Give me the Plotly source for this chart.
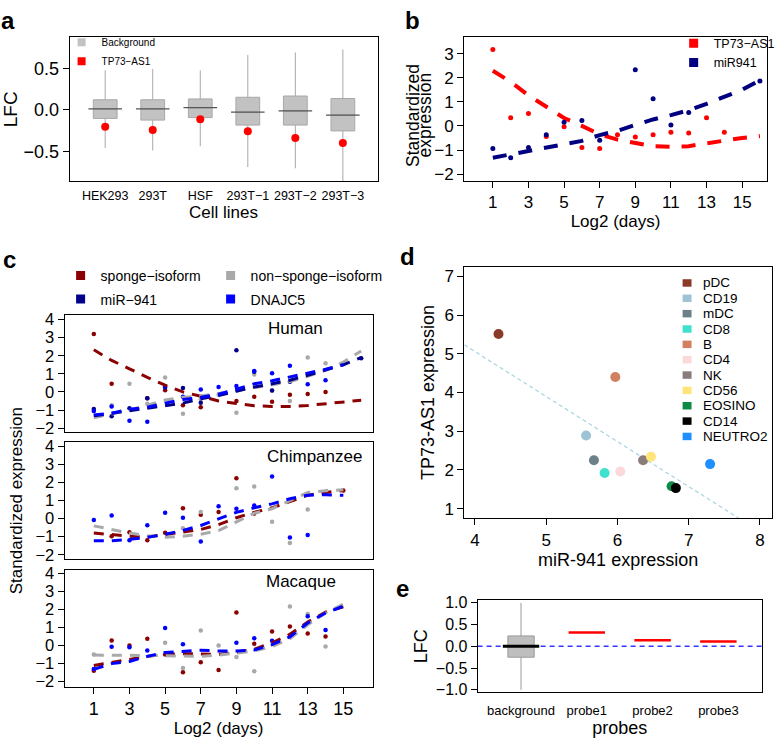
import numpy as np
import plotly.graph_objects as go

W, H = 780, 744
FONT = "Liberation Sans, Arial, Helvetica, sans-serif"


def X(px):
    return px / W


def Y(py):
    return 1 - py / H


# ---------------- Panel a data ----------------
cell_lines = ["HEK293", "293T", "HSF", "293T\u22121", "293T\u22122", "293T\u22123"]
bg_lower = [-0.46, -0.49, -0.44, -0.69, -0.705, -0.95]
bg_q1 = [-0.105, -0.125, -0.095, -0.185, -0.185, -0.255]
bg_median = [0.01, 0.01, 0.025, -0.03, -0.015, -0.065]
bg_q3 = [0.12, 0.12, 0.13, 0.15, 0.165, 0.135]
bg_upper = [0.475, 0.49, 0.475, 0.66, 0.69, 0.725]
tp73_lfc = [-0.205, -0.245, -0.115, -0.26, -0.34, -0.40]

# ---------------- Panel b data ----------------
days = list(range(1, 17))
b_tp73_pts = [3.17, 0.34, 0.52, -0.44, -0.03, -0.89, -0.94, -0.37, -0.46, -0.37,
              -0.26, -0.29, 0.34, -0.26, None, None]
b_mir_pts = [-0.94, -1.32, -0.89, -0.37, 0.15, 0.23, -0.59, None, 2.33, 1.13,
             0.04, 0.56, None, None, None, 1.86]
b_tp73_fit = [2.29, 1.83, 1.27, 0.81, 0.33, 0.0, -0.35, -0.57, -0.71, -0.84,
              -0.86, -0.84, -0.72, -0.60, -0.50, -0.42]
b_mir_fit = [-1.32, -1.18, -1.05, -0.94, -0.78, -0.62, -0.38, -0.20, 0.04, 0.27,
             0.45, 0.65, 0.92, 1.20, 1.50, 1.90]

# ---------------- Panel c data ----------------
hs_sponge_pts = [3.2, 0.45, None, -0.35, 0.09, -0.73, -0.85, None, -0.5, -0.27,
                 -0.55, -0.15, -0.12, 0.0, None, None]
hs_nonsponge_pts = [-1.05, -0.73, 0.45, -0.65, 0.8, -1.2, -0.4, -0.15, -1.15, 0.97,
                    0.08, -0.5, 1.9, 1.58, None, None]
hs_mir_pts = [-0.94, -1.35, -0.9, -0.35, 0.25, 0.22, -0.6, None, 2.31, 1.12,
              0.08, 0.56, None, None, None, 1.86]
hs_dnajc5_pts = [-1.05, -0.8, -1.6, -1.65, 0.3, -0.27, 0.13, 0.27, 0.33, 1.15,
                 1.03, 1.45, 0.42, 0.65, None, None]
hs_sponge_fit = [2.33, 1.74, 1.28, 0.80, 0.37, 0.0, -0.24, -0.50, -0.64, -0.76,
                 -0.80, -0.80, -0.75, -0.66, -0.58, -0.46]
hs_nonsponge_fit = [-1.43, -1.23, -1.0, -0.73, -0.45, -0.30, -0.22, -0.08, 0.08, 0.20,
                    0.40, 0.57, 0.86, 1.20, 1.65, 2.26]
hs_mir_fit = [-1.32, -1.18, -1.05, -0.94, -0.78, -0.62, -0.38, -0.20, 0.04, 0.27,
              0.45, 0.65, 0.92, 1.20, 1.50, 1.90]
hs_dnajc5_fit = [-1.28, -1.18, -0.95, -0.85, -0.62, -0.42, -0.30, -0.13, 0.15, 0.45,
                 0.62, 0.82, 1.05, 1.25, 1.50, None]

pt_sponge_pts = [None, -0.98, -0.76, -1.2, -0.78, 0.58, 0.22, 0.37, 2.24, 0.28,
                 None, None, 1.37, None, 1.56, None]
pt_nonsponge_pts = [None, None, None, None, None, -0.53, 0.37, None, 1.69, 1.78,
                    -0.17, -1.35, 0.51, None, None, None]
pt_dnajc5_pts = [-0.07, 0.18, -1.2, -0.36, 0.33, 0.05, -1.27, 0.69, 0.55, 0.73,
                 2.33, -1.04, -0.91, None, None, None]
pt_sponge_fit = [-0.80, -0.90, -0.97, -1.02, -0.87, -0.75, -0.60, -0.33, 0.05, 0.35,
                 0.60, 0.95, 1.30, 1.45, 1.56, None]
pt_nonsponge_fit = [-0.40, -0.62, -0.80, -0.95, -1.03, -0.97, -0.86, -0.66, -0.20, 0.30,
                    0.55, 1.00, 1.45, 1.55, 1.60, None]
pt_dnajc5_fit = [-1.22, -1.22, -1.15, -1.04, -0.87, -0.65, -0.38, -0.02, 0.35, 0.60,
                 0.82, 1.10, 1.30, 1.33, 1.29, None]

mm_sponge_pts = [-1.4, 0.28, 0.0, 0.37, -0.49, -1.48, -0.93, -1.35, 1.83, 0.1,
                 0.78, 1.05, 0.66, 0.5, None, None]
mm_nonsponge_pts = [-0.5, None, None, None, 0.15, -1.25, 0.83, 0.0, -0.63, -1.42,
                    None, 2.16, 1.74, -0.05, None, None]
mm_dnajc5_pts = [-1.3, -0.07, -0.09, -0.28, 0.97, 0.07, None, None, 0.15, 0.40,
                 0.26, None, 1.62, 0.86, None, None]
mm_sponge_fit = [-1.10, -0.92, -0.75, -0.60, -0.48, -0.45, -0.47, -0.48, -0.38, -0.20,
                 0.15, 0.62, 1.30, 1.85, 2.15, None]
mm_nonsponge_fit = [-0.53, -0.55, -0.56, -0.55, -0.56, -0.56, -0.60, -0.53, -0.40, -0.30,
                    -0.05, 0.38, 1.15, 1.80, 2.30, None]
mm_dnajc5_fit = [-1.32, -1.00, -0.88, -0.60, -0.38, -0.30, -0.26, -0.30, -0.30, -0.25,
                 0.05, 0.48, 1.25, 1.80, 2.18, None]

# ---------------- Panel d data ----------------
cell_types = ["pDC", "CD19", "mDC", "CD8", "B", "CD4", "NK", "CD56", "EOSINO", "CD14", "NEUTRO2"]
mir941_expr = [4.33, 5.56, 5.67, 5.82, 5.97, 6.04, 6.36, 6.47, 6.76, 6.82, 7.30]
tp73_expr = [5.51, 2.89, 2.25, 1.92, 4.40, 1.96, 2.25, 2.34, 1.58, 1.53, 2.15]
cell_colors = ["#8C3A28", "#9DC3D4", "#6B8089", "#40E0CF", "#D2805F", "#FBD9DA",
               "#8A7C7B", "#FFE47A", "#0E8A47", "#000000", "#1E8FFF"]

# ---------------- Panel e data ----------------
probes = ["background", "probe1", "probe2", "probe3"]
e_bg_stats = dict(lower=-1.0, q1=-0.25, median=0.0, q3=0.24, upper=1.0)
probe_lfc = [0.32, 0.14, 0.11]

C_SPONGE = "#8B0000"
C_NONSPONGE = "#A9A9A9"
C_MIR = "#00008B"
C_DNAJC5 = "#0000FF"

fig = go.Figure()

# ---- a
fig.add_trace(go.Box(x=cell_lines, q1=bg_q1, median=bg_median, q3=bg_q3,
                     lowerfence=bg_lower, upperfence=bg_upper, width=0.5, whiskerwidth=0,
                     fillcolor="#C2C2C2", line=dict(color="#A8A8A8", width=1),
                     xaxis="x", yaxis="y", showlegend=False, name="Background", hoverinfo="skip"))
fig.add_trace(go.Scatter(x=cell_lines, y=bg_median, mode="markers", xaxis="x", yaxis="y",
                         marker=dict(symbol="line-ew", size=24, line=dict(color="#555555", width=1.3)),
                         showlegend=False, hoverinfo="skip"))
fig.add_trace(go.Scatter(x=cell_lines, y=tp73_lfc, mode="markers", xaxis="x", yaxis="y",
                         marker=dict(color="#FF0000", size=8), showlegend=False, name="TP73\u2212AS1"))
for nm, col in [("Background", "#C2C2C2"), ("TP73\u2212AS1", "#FF0000")]:
    fig.add_trace(go.Scatter(x=[None], y=[None], mode="markers", xaxis="x", yaxis="y",
                             marker=dict(symbol="square", size=8, color=col), name=nm,
                             legend="legend", showlegend=True))

# ---- b
DASH_B = "14px,12px"
fig.add_trace(go.Scatter(x=days, y=b_tp73_fit, mode="lines", xaxis="x2", yaxis="y2",
                         line=dict(color="#FF0000", width=4, dash=DASH_B), showlegend=False))
fig.add_trace(go.Scatter(x=days, y=b_mir_fit, mode="lines", xaxis="x2", yaxis="y2",
                         line=dict(color="#000080", width=4, dash=DASH_B), showlegend=False))
fig.add_trace(go.Scatter(x=days, y=b_tp73_pts, mode="markers", xaxis="x2", yaxis="y2",
                         marker=dict(color="#FF0000", size=5), showlegend=False))
fig.add_trace(go.Scatter(x=days, y=b_mir_pts, mode="markers", xaxis="x2", yaxis="y2",
                         marker=dict(color="#000080", size=5), showlegend=False))
for nm, col in [("TP73\u2212AS1", "#FF0000"), ("miR941", "#000080")]:
    fig.add_trace(go.Scatter(x=[None], y=[None], mode="markers", xaxis="x2", yaxis="y2",
                             marker=dict(symbol="square", size=9, color=col), name=nm,
                             legend="legend2", showlegend=True))

# ---- c
DASH_C = "10px,8px"
species = [
    ("x3", "y3", [(hs_sponge_pts, hs_sponge_fit, C_SPONGE), (hs_nonsponge_pts, hs_nonsponge_fit, C_NONSPONGE),
                  (hs_mir_pts, hs_mir_fit, C_MIR), (hs_dnajc5_pts, hs_dnajc5_fit, C_DNAJC5)]),
    ("x4", "y4", [(pt_sponge_pts, pt_sponge_fit, C_SPONGE), (pt_nonsponge_pts, pt_nonsponge_fit, C_NONSPONGE),
                  (pt_dnajc5_pts, pt_dnajc5_fit, C_DNAJC5)]),
    ("x5", "y5", [(mm_sponge_pts, mm_sponge_fit, C_SPONGE), (mm_nonsponge_pts, mm_nonsponge_fit, C_NONSPONGE),
                  (mm_dnajc5_pts, mm_dnajc5_fit, C_DNAJC5)]),
]
for xa, ya, series in species:
    for pts, fit, col in series:
        fig.add_trace(go.Scatter(x=days, y=pts, mode="markers", xaxis=xa, yaxis=ya,
                                 marker=dict(color=col, size=4.5), showlegend=False))
    for pts, fit, col in series:
        fig.add_trace(go.Scatter(x=days, y=fit, mode="lines", xaxis=xa, yaxis=ya,
                                 line=dict(color=col, width=3, dash=DASH_C), showlegend=False))
for nm, col, lg, lw in [("sponge\u2212isoform", C_SPONGE, "legend3", 105),
                        ("non\u2212sponge\u2212isoform", C_NONSPONGE, "legend3", 140),
                        ("miR\u2212941", C_MIR, "legend4", 105), ("DNAJC5", C_DNAJC5, "legend4", 140)]:
    fig.add_trace(go.Scatter(x=[None], y=[None], mode="markers", xaxis="x3", yaxis="y3",
                             marker=dict(symbol="square", size=9, color=col), name=nm,
                             legend=lg, legendwidth=lw, showlegend=True))

# ---- d
d_xrange = [3.85, 8.17]
slope, intercept = np.polyfit(mir941_expr, tp73_expr, 1)
line_x = np.array(d_xrange)
fig.add_trace(go.Scatter(x=line_x, y=slope * line_x + intercept, mode="lines", xaxis="x6", yaxis="y6",
                         line=dict(color="#A9D3E0", width=1.2, dash="4px,3px"), showlegend=False))
for nm, xv, yv, col in zip(cell_types, mir941_expr, tp73_expr, cell_colors):
    fig.add_trace(go.Scatter(x=[xv], y=[yv], mode="markers", xaxis="x6", yaxis="y6", name=nm,
                             marker=dict(color=col, size=10), showlegend=False))

# ---- e
fig.add_trace(go.Box(x=[probes[0]], q1=[e_bg_stats["q1"]], median=[e_bg_stats["median"]],
                     q3=[e_bg_stats["q3"]], lowerfence=[e_bg_stats["lower"]], upperfence=[e_bg_stats["upper"]],
                     width=0.4, whiskerwidth=0, fillcolor="#BEBEBE", line=dict(color="#9A9A9A", width=1),
                     xaxis="x7", yaxis="y7", showlegend=False, hoverinfo="skip"))
fig.add_trace(go.Scatter(x=[probes[0]], y=[e_bg_stats["median"]], mode="markers", xaxis="x7", yaxis="y7",
                         marker=dict(symbol="line-ew", size=26, line=dict(color="#000000", width=3)),
                         showlegend=False, hoverinfo="skip"))
fig.add_trace(go.Scatter(x=probes[1:], y=probe_lfc, mode="markers", xaxis="x7", yaxis="y7",
                         marker=dict(symbol="line-ew", size=26, line=dict(color="#FF0000", width=2.5)),
                         showlegend=False))
fig.add_shape(type="line", xref="x7 domain", yref="y7", x0=0, x1=1, y0=0, y1=0,
              line=dict(color="#3535FF", width=1.5, dash="5px,4px"), layer="below")


def axis(domain, rng, anchor, tsize=18, **kw):
    d = dict(domain=domain, range=rng, anchor=anchor, showline=True, mirror=True,
             linecolor="black", linewidth=1, showgrid=False, zeroline=False,
             ticks="outside", ticklen=6, tickcolor="black", tickwidth=1,
             tickfont=dict(size=tsize, color="black", family=FONT), fixedrange=True)
    d.update(kw)
    return d


def ttl(text, size, standoff):
    return dict(text=text, font=dict(size=size, color="black", family=FONT), standoff=standoff)


cdom = [X(65), X(375)]
layout = dict(
    width=W, height=H, margin=dict(l=0, r=0, t=0, b=0),
    paper_bgcolor="white", plot_bgcolor="white",
    font=dict(family=FONT, color="black"),
    # a
    xaxis=axis([X(70), X(380)], [-0.75, 5.73], "y", tsize=12.5, ticks="", tickangle=0,
               ticklabelstandoff=3, title=ttl("Cell lines", 17, 2)),
    yaxis=axis([Y(178), Y(32)], [-0.86, 0.87], "x", tickvals=[-0.5, 0, 0.5],
               ticktext=["\u22120.5", "0.0", "0.5"], title=ttl("LFC", 19, 0)),
    # b
    xaxis2=axis([X(467), X(772)], [-0.62, 16.4], "y2", tsize=17, tickvals=list(range(1, 16, 2)),
                ticklabelstandoff=-1, title=ttl("Log2 (days)", 17, 0)),
    yaxis2=axis([Y(178), Y(32)], [-2.29, 3.67], "x2", tsize=17, tickvals=list(range(-2, 4))),
    # c
    xaxis3=axis(cdom, [-0.64, 16.64], "y3", showticklabels=False, ticks=""),
    yaxis3=axis([Y(432.7), Y(314.3)], [-2.2, 4.24], "x3", tsize=16.5, tickvals=list(range(-2, 5))),
    xaxis4=axis(cdom, [-0.64, 16.64], "y4", showticklabels=False, ticks=""),
    yaxis4=axis([Y(562.3), Y(443.3)], [-2.25, 4.24], "x4", tsize=16.5, tickvals=list(range(-2, 5)),
                title=ttl("Standardized expression", 17, 8)),
    xaxis5=axis(cdom, [-0.64, 16.64], "y5", tsize=18, tickvals=list(range(1, 16, 2)),
                title=ttl("Log2 (days)", 17, 2)),
    yaxis5=axis([Y(691.7), Y(573.3)], [-2.27, 4.18], "x5", tsize=16.5, tickvals=list(range(-2, 5))),
    # d
    xaxis6=axis([X(467.3), X(777)], d_xrange, "y6", tsize=17, tickvals=[4, 5, 6, 7, 8],
                title=ttl("miR-941 expression", 18, 2)),
    yaxis6=axis([Y(520.7), Y(265)], [0.75, 7.25], "x6", tsize=17, tickvals=list(range(1, 8)),
                title=ttl("TP73-AS1 expression", 18, 5)),
    # e
    xaxis7=axis([X(480.7), X(766.7)], [-0.66, 3.66], "y7", tsize=13, ticks="", tickangle=0,
                ticklabelstandoff=6, title=ttl("probes", 18, 2)),
    yaxis7=axis([Y(697.7), Y(604)], [-1.06, 1.06], "x7", tsize=16, tickvals=[-1, -0.5, 0, 0.5, 1],
                ticktext=["\u22121.0", "\u22120.5", "0.0", "0.5", "1.0"], title=ttl("LFC", 18, 3)),
    legend=dict(x=X(62), y=Y(22), xanchor="left", yanchor="top", bgcolor="rgba(0,0,0,0)",
                font=dict(size=10), tracegroupgap=0),
    legend2=dict(x=X(678), y=Y(23), xanchor="left", yanchor="top", bgcolor="rgba(0,0,0,0)",
                 font=dict(size=12.5), tracegroupgap=0),
    legend3=dict(x=X(61), y=Y(258), xanchor="left", yanchor="top", orientation="h",
                 bgcolor="rgba(0,0,0,0)", font=dict(size=14)),
    legend4=dict(x=X(61), y=Y(282), xanchor="left", yanchor="top", orientation="h",
                 bgcolor="rgba(0,0,0,0)", font=dict(size=14)),
)
fig.update_layout(**layout)

# panel b y-axis title (two tightly spaced lines as in the reference)
for line_text, px in [("Standardized", 415.5), ("expression", 428)]:
    fig.add_annotation(text=line_text, x=X(px), y=Y(111), xref="paper", yref="paper", showarrow=False,
                       textangle=-90, xanchor="center", yanchor="middle", font=dict(size=17.5, color="black"))

# panel letters
for letter, px, py in [("a", 8, 15), ("b", 415, 15), ("c", 10, 258), ("d", 410, 255), ("e", 405, 592)]:
    fig.add_annotation(text=f"<b>{letter}</b>", x=X(px), y=Y(py), xref="paper", yref="paper",
                       showarrow=False, xanchor="center", yanchor="middle", font=dict(size=24, color="black"))

# species labels
for name, px, py in [("Human", 297, 328), ("Chimpanzee", 317, 458), ("Macaque", 303, 585)]:
    fig.add_annotation(text=name, x=X(px), y=Y(py), xref="paper", yref="paper", showarrow=False,
                       xanchor="center", yanchor="middle", font=dict(size=17, color="black"))

# panel d legend (compact rows)
row0, pitch = 281.5, 15.6
for i, (nm, col) in enumerate(zip(cell_types, cell_colors)):
    yc = row0 + i * pitch
    fig.add_shape(type="rect", xref="paper", yref="paper", x0=X(687), x1=X(696), y0=Y(yc + 3.8), y1=Y(yc - 3.8),
                  fillcolor=col, line=dict(width=0))
    fig.add_annotation(text=nm, x=X(706), y=Y(yc), xref="paper", yref="paper", showarrow=False,
                       xanchor="left", yanchor="middle", font=dict(size=13.5, color="black"))

fig.write_html("out.html", config={"displayModeBar": False},
               post_script="document.body.style.margin='0px';document.body.style.overflow='hidden';")
